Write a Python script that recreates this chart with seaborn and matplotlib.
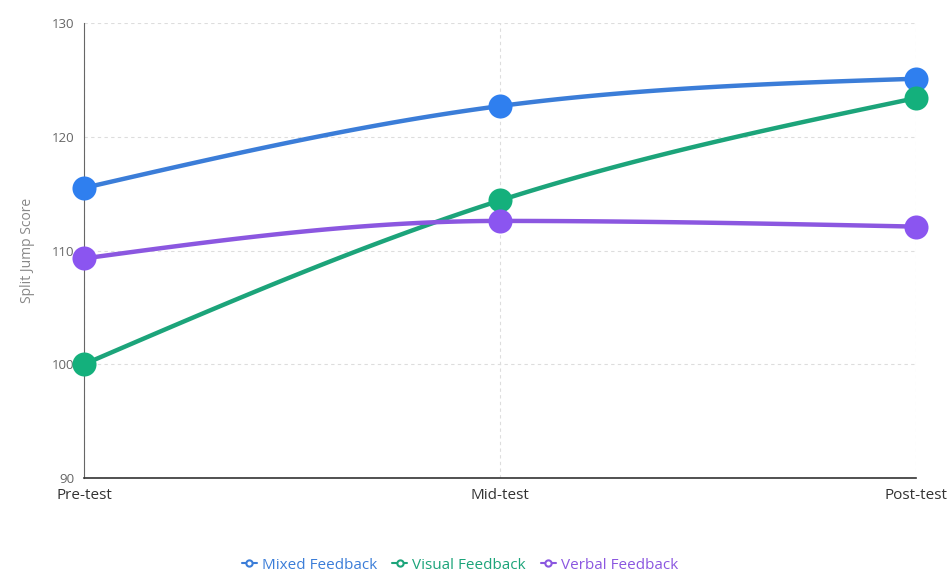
import numpy as np
import pandas as pd
import matplotlib
matplotlib.use("Agg")
import matplotlib.pyplot as plt
import seaborn as sns
from matplotlib.lines import Line2D

phases = ["Pre-test", "Mid-test", "Post-test"]
mixed = [115.5, 122.7, 125.1]
visual = [100.0, 114.4, 123.4]
verbal = [109.3, 112.6, 112.1]

series = {
    "Mixed Feedback": (mixed, "#3b7dd8", "#2f7fef"),
    "Visual Feedback": (visual, "#1ca47a", "#14b07c"),
    "Verbal Feedback": (verbal, "#8b57e0", "#8b55f0"),
}


def monotone_curve(y, steps=60):
    # d3-style monotoneX cubic through evenly spaced points
    y = np.asarray(y, dtype=float)
    n = len(y)
    s = np.diff(y)
    m = np.zeros(n)
    for k in range(1, n - 1):
        s0, s1 = s[k - 1], s[k]
        p = (s0 + s1) / 2
        m[k] = (np.sign(s0) + np.sign(s1)) * min(abs(s0), abs(s1), 0.5 * abs(p))
    m[0] = (3 * s[0] - m[1]) / 2 if n > 2 else s[0]
    m[-1] = (3 * s[-1] - m[-2]) / 2 if n > 2 else s[-1]
    xs, ys = [], []
    for k in range(n - 1):
        t = np.linspace(0, 1, steps)
        h00 = 2 * t**3 - 3 * t**2 + 1
        h10 = t**3 - 2 * t**2 + t
        h01 = -2 * t**3 + 3 * t**2
        h11 = t**3 - t**2
        xs.append(k + t)
        ys.append(h00 * y[k] + h10 * m[k] + h01 * y[k + 1] + h11 * m[k + 1])
    return np.concatenate(xs), np.concatenate(ys)


sns.set_style("white")
plt.rcParams["font.family"] = ["Open Sans", "DejaVu Sans"]

fig = plt.figure(figsize=(9.52, 5.72), dpi=100)
ax = fig.add_axes([0.0882, 0.1643, 0.874, 0.7955])

for name, (vals, lc, mc) in series.items():
    cx, cy = monotone_curve(vals)
    sns.lineplot(x=cx, y=cy, ax=ax, color=lc, linewidth=3.2, clip_on=False,
                 estimator=None, sort=False, zorder=3)
    pts = pd.DataFrame({"x": np.arange(len(phases)), "y": vals})
    sns.scatterplot(data=pts, x="x", y="y", ax=ax, color=mc, s=300,
                    edgecolor=mc, linewidth=0, clip_on=False, zorder=4)

ax.set_xlim(0, 2)
ax.set_ylim(90, 130)
ax.set_xticks(range(len(phases)))
ax.set_xticklabels(phases, fontsize=11, color="#333333")
ax.set_yticks([90, 100, 110, 120, 130])
ax.tick_params(axis="y", labelsize=9.5, colors="#666666", length=5, width=0.8, pad=2)
ax.tick_params(axis="x", length=5, width=0.8, color="#555555", pad=2)
for lab in ax.get_yticklabels():
    lab.set_color("#666666")

ax.grid(True, color="#dddddd", linestyle=(0, (3, 3)), linewidth=0.8)
ax.set_axisbelow(True)
for sp in ["top", "right"]:
    ax.spines[sp].set_visible(False)
ax.spines["left"].set_color("#666666")
ax.spines["left"].set_linewidth(0.8)
ax.spines["bottom"].set_color("#333333")
ax.spines["bottom"].set_linewidth(1.2)

ax.set_xlabel("")
ax.set_ylabel("Split Jump Score", fontsize=10, color="#888888", labelpad=12)

handles = [Line2D([0], [0], color=lc, linewidth=1.5, marker="o", markersize=4.5,
                  markerfacecolor="white", markeredgecolor=lc, markeredgewidth=1.5)
           for _, (_, lc, _) in series.items()]
leg = fig.legend(handles, list(series.keys()), loc="lower center",
                 bbox_to_anchor=(0.483, -0.025), ncol=3, frameon=False,
                 fontsize=11, handlelength=1.0, handletextpad=0.3, columnspacing=1.0)
for txt, (_, (_, lc, _)) in zip(leg.get_texts(), series.items()):
    txt.set_color(lc)

fig.savefig("out.png", dpi=100)
